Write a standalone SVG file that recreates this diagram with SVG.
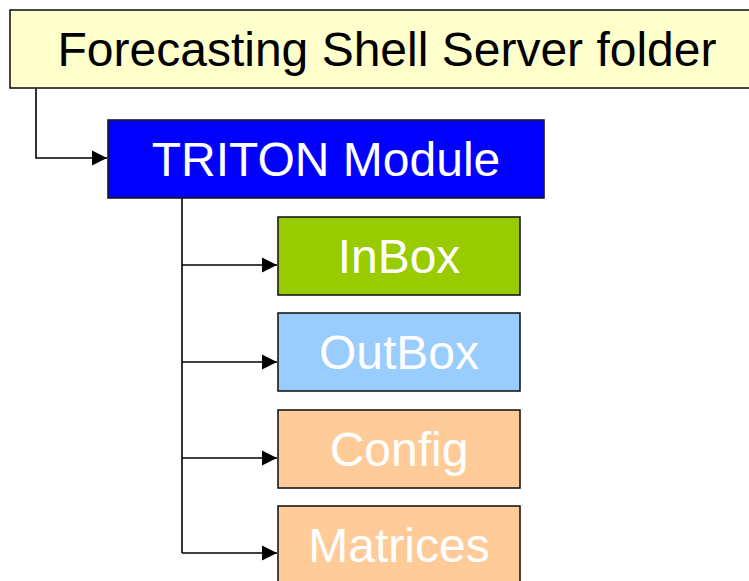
<svg xmlns="http://www.w3.org/2000/svg" width="749" height="581" viewBox="0 0 749 581">
  <style>
    .box { stroke: #1a1a1a; stroke-width: 1.6; }
    .lbl { font-family: "Liberation Sans", Arial, sans-serif; font-size: 48px; text-anchor: middle; }
    .wire { fill: none; stroke: #000; stroke-width: 1.6; }
  </style>
  <defs>
    <marker id="arrow" markerUnits="userSpaceOnUse" markerWidth="16" markerHeight="16" viewBox="0 0 16 16" refX="15" refY="8" orient="auto">
      <path d="M0,0.5 L15,8 L0,15.5 Z" fill="#000"/>
    </marker>
  </defs>
  <rect width="749" height="581" fill="#fff"/>

  <g id="connectors">
    <path class="wire" d="M36,88 V158 H107" marker-end="url(#arrow)"/>
    <path class="wire" d="M182,198 V553"/>
    <path class="wire" d="M182,265 H277" marker-end="url(#arrow)"/>
    <path class="wire" d="M182,362 H277" marker-end="url(#arrow)"/>
    <path class="wire" d="M182,458 H277" marker-end="url(#arrow)"/>
    <path class="wire" d="M182,553 H277" marker-end="url(#arrow)"/>
  </g>

  <g id="shell-folder">
    <rect class="box" x="10" y="10" width="760" height="78" fill="#FFFFCC"/>
    <text class="lbl" x="387" y="66" fill="#000">Forecasting Shell Server folder</text>
  </g>

  <g id="triton-module">
    <rect class="box" x="108" y="120" width="436" height="78" fill="#0000FF"/>
    <text class="lbl" x="326" y="176" fill="#fff">TRITON Module</text>
  </g>

  <g id="inbox">
    <rect class="box" x="278" y="217" width="242" height="78" fill="#99CC00"/>
    <text class="lbl" x="399" y="273" fill="#fff">InBox</text>
  </g>

  <g id="outbox">
    <rect class="box" x="278" y="313" width="242" height="78" fill="#99CCFF"/>
    <text class="lbl" x="399" y="369" fill="#fff">OutBox</text>
  </g>

  <g id="config">
    <rect class="box" x="278" y="410" width="242" height="78" fill="#FFCC99"/>
    <text class="lbl" x="399" y="466" fill="#fff">Config</text>
  </g>

  <g id="matrices">
    <rect class="box" x="278" y="506" width="242" height="78" fill="#FFCC99"/>
    <text class="lbl" x="399" y="562" fill="#fff">Matrices</text>
  </g>
</svg>
